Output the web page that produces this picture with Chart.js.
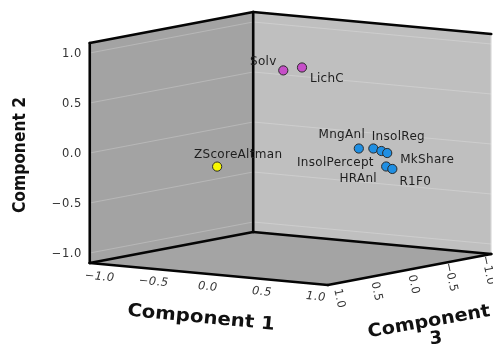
<!DOCTYPE html>
<html>
<head>
<meta charset="utf-8">
<script src="https://cdn.jsdelivr.net/npm/chart.js@4.4.1/dist/chart.umd.min.js"></script>
<style>
  html, body { margin: 0; padding: 0; background: #ffffff; }
  #wrap { width: 493px; height: 345px; }
</style>
</head>
<body>
<div id="wrap"><canvas id="c" width="493" height="345"></canvas></div>
<script>
// ---------------- data (component loadings) ----------------
const variables = ['ZScoreAltman', 'Solv', 'LichC', 'MngAnl', 'InsolReg', 'InsolPercept', 'MkShare', 'HRAnl', 'R1F0'];
const component1 = [-0.06, 0.05, 0.12, 0.70, 0.80, 0.84, 0.88, 0.85, 0.90];
const component2 = [-0.06, 0.81, 0.825, 0.084, 0.087, 0.059, 0.04, -0.102, -0.123];
const component3 = [0.90, 0.17, 0.02, 0.10, 0.05, 0.00, -0.02, -0.05, -0.06];
const groupOf    = [3, 2, 2, 1, 1, 1, 1, 1, 1];

const tickValues = [-1.0, -0.5, 0.0, 0.5, 1.0];
const tickLabels = ['\u22121.0', '\u22120.5', '0.0', '0.5', '1.0'];
const axisTitles = ['Component 1', 'Component 2', 'Component 3'];
const axisMin = -1.1, axisMax = 1.1;

// ---------------- styles ----------------
const groupColors = { 1: '#1f8fe3', 2: '#c64fc8', 3: '#f7f700' };
// label text-centre offsets from each point (px)
const labelOffsets = [[21, -12], [-20, -9], [25, 11], [-17, -14], [25, -12], [-46, 11.5], [40, 6.5], [-28, 12], [23, 12.5]];

// ---------------- projection (oblique view of the 3-D box) ----------------
const view = { cx: 290.5, cy: 148.5, u1: [108.2, 10], u3: [-74.3, 14.1], u2: -100 };
function proj(c1, c2, c3) {
  return {
    x: view.cx + view.u1[0] * c1 + view.u3[0] * c3,
    y: view.cy + view.u1[1] * c1 + view.u3[1] * c3 + view.u2 * c2
  };
}

const R0 = axisMin, R1 = axisMax;
function edge(a, b) { return [proj(...a), proj(...b)]; }
const edgesBold = [
  edge([R0, R0, R1], [R0, R1, R1]), // left vertical
  edge([R0, R1, R1], [R0, R1, R0]), // top-left
  edge([R0, R0, R0], [R0, R1, R0]), // back vertical
  edge([R0, R1, R0], [R1, R1, R0]), // top-right
  edge([R0, R0, R1], [R1, R0, R1]), // floor front-left
  edge([R1, R0, R1], [R1, R0, R0]), // floor front-right
  edge([R0, R0, R1], [R0, R0, R0]), // floor back-left
  edge([R0, R0, R0], [R1, R0, R0])  // floor back-right
];

const pointData = variables.map((v, i) => proj(component1[i], component2[i], component3[i]));

const datasets = [];
edgesBold.forEach(e => datasets.push({
  type: 'line', data: e, borderColor: '#050505', borderWidth: 2.6,
  pointRadius: 0, showLine: true, fill: false, order: 2, borderCapStyle: 'round', borderJoinStyle: 'round'
}));
datasets.push({
  type: 'line', data: edge([R1, R0, R0], [R1, R1, R0]), borderColor: '#e8e8e8', borderWidth: 1.2,
  pointRadius: 0, showLine: true, fill: false, order: 2
});
datasets.push({
  type: 'scatter', data: pointData,
  backgroundColor: groupOf.map(g => groupColors[g]),
  borderColor: '#2a2a2a', borderWidth: 1, pointRadius: 4.6, order: 1
});

function poly(ctx, xs, ys, pts, fill) {
  ctx.beginPath();
  pts.forEach((p, i) => {
    const P = proj(...p);
    const X = xs.getPixelForValue(P.x), Y = ys.getPixelForValue(P.y);
    i ? ctx.lineTo(X, Y) : ctx.moveTo(X, Y);
  });
  ctx.closePath();
  ctx.fillStyle = fill;
  ctx.fill();
}
function text(ctx, str, x, y, o) {
  ctx.save();
  ctx.translate(x, y);
  if (o.angle) ctx.rotate(o.angle * Math.PI / 180);
  ctx.font = o.font;
  ctx.fillStyle = o.color || '#222';
  ctx.textAlign = o.align || 'center';
  ctx.textBaseline = 'middle';
  if (o.spacing) ctx.letterSpacing = o.spacing;
  if (o.width) {
    const w = ctx.measureText(str).width;
    ctx.scale(o.width / w, 1);
  }
  ctx.fillText(str, 0, 0);
  ctx.restore();
}

const boxPlugin = {
  id: 'box3d',
  beforeDatasetsDraw(chart) {
    const ctx = chart.ctx, xs = chart.scales.x, ys = chart.scales.y;
    ctx.save();
    // left wall (component 1 = min), right wall (component 3 = min), floor
    poly(ctx, xs, ys, [[R0, R0, R1], [R0, R1, R1], [R0, R1, R0], [R0, R0, R0]], '#a3a3a3');
    poly(ctx, xs, ys, [[R0, R0, R0], [R0, R1, R0], [R1, R1, R0], [R1, R0, R0]], '#bfbfbf');
    poly(ctx, xs, ys, [[R0, R0, R1], [R1, R0, R1], [R1, R0, R0], [R0, R0, R0]], '#a4a4a4');
    // grid lines on walls
    ctx.strokeStyle = 'rgba(255,255,255,0.22)';
    ctx.lineWidth = 1;
    tickValues.forEach(v => {
      const a = proj(R0, v, R1), b = proj(R0, v, R0), c = proj(R1, v, R0);
      ctx.beginPath();
      ctx.moveTo(xs.getPixelForValue(a.x), ys.getPixelForValue(a.y));
      ctx.lineTo(xs.getPixelForValue(b.x), ys.getPixelForValue(b.y));
      ctx.lineTo(xs.getPixelForValue(c.x), ys.getPixelForValue(c.y));
      ctx.stroke();
    });
    ctx.restore();
  },
  afterDatasetsDraw(chart) {
    const ctx = chart.ctx, xs = chart.scales.x, ys = chart.scales.y;
    const tickFont = '11.5px "DejaVu Sans"';
    // point labels
    pointData.forEach((p, i) => {
      text(ctx, variables[i], xs.getPixelForValue(p.x) + labelOffsets[i][0], ys.getPixelForValue(p.y) + labelOffsets[i][1],
        { font: '12px "DejaVu Sans"', color: '#1e1e1e', spacing: '0.3px' });
    });
    tickValues.forEach((v, i) => {
      // component 2 (vertical) ticks on left edge
      let P = proj(R0, v, R1);
      text(ctx, tickLabels[i], xs.getPixelForValue(P.x) - 8, ys.getPixelForValue(P.y) + 1,
        { font: tickFont, color: '#333', align: 'right', spacing: '0.5px' });
      // component 1 ticks along front-left floor edge
      P = proj(v, R0, R1);
      text(ctx, tickLabels[i], xs.getPixelForValue(P.x) - 1, ys.getPixelForValue(P.y) + 13,
        { font: 'italic ' + tickFont, color: '#333', angle: 5, spacing: '0.5px' });
      // component 3 ticks along front-right floor edge
      P = proj(R1, R0, v);
      text(ctx, tickLabels[i], xs.getPixelForValue(P.x) + 4, ys.getPixelForValue(P.y) + 15,
        { font: tickFont, color: '#333', angle: 78, spacing: '0.5px' });
    });
    // axis titles
    text(ctx, axisTitles[1], 21, 155, { font: 'bold 17px "DejaVu Sans"', color: '#111', angle: -90, width: 116 });
    text(ctx, axisTitles[0], 201, 318, { font: 'bold 18px "DejaVu Sans"', color: '#111', angle: 5.5, width: 148 });
    const t3 = axisTitles[2].split(' ');
    text(ctx, t3[0], 429, 322, { font: 'bold 18px "DejaVu Sans"', color: '#111', angle: -10, width: 124 });
    text(ctx, t3[1], 436, 339, { font: 'bold 18px "DejaVu Sans"', color: '#111', angle: -6 });
  }
};

new Chart(document.getElementById('c'), {
  data: { datasets },
  options: {
    responsive: false,
    animation: false,
    devicePixelRatio: 1,
    layout: { padding: 0, autoPadding: false },
    plugins: { legend: { display: false }, tooltip: { enabled: false } },
    scales: {
      x: { type: 'linear', min: 0, max: 493, display: false },
      y: { type: 'linear', min: 0, max: 345, reverse: true, display: false }
    }
  },
  plugins: [boxPlugin]
});
</script>
</body>
</html>
